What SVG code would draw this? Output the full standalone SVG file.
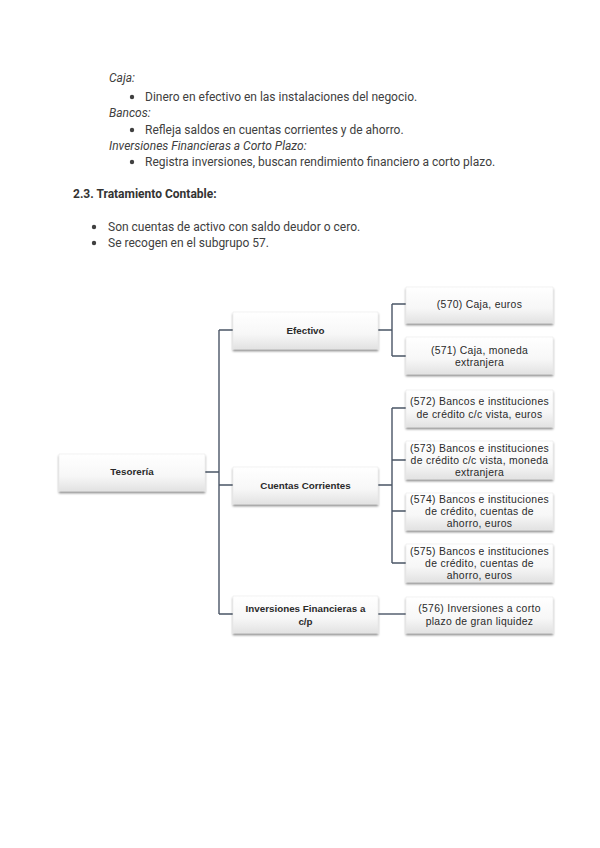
<svg xmlns="http://www.w3.org/2000/svg" width="600" height="848" viewBox="0 0 600 848">
<defs>
<linearGradient id="g" x1="0" y1="0" x2="0" y2="1">
<stop offset="0" stop-color="#ffffff"/>
<stop offset="0.6" stop-color="#f7f7f7"/>
<stop offset="1" stop-color="#e2e2e2"/>
</linearGradient>
<filter id="sh" x="-10%" y="-20%" width="120%" height="150%">
<feDropShadow dx="0" dy="2" stdDeviation="1.2" flood-color="#000" flood-opacity="0.45"/>
</filter>
</defs>
<style>
.doc{font-family:Roboto,"Liberation Sans",sans-serif;font-size:12px;fill:#404040}
.it{font-style:italic}
.h{font-weight:bold;font-size:12px;fill:#333}
.box{fill:url(#g);stroke:#e6e6e6;stroke-width:0.5;filter:url(#sh)}
.lb{font-family:"Liberation Sans",Arial,sans-serif;font-weight:bold;font-size:9.8px;fill:#2a2a2a;text-anchor:middle}
.rb{font-family:"Liberation Sans",Arial,sans-serif;font-size:10.4px;letter-spacing:0.3px;fill:#2a2a2a;text-anchor:middle}
.ln{fill:none;stroke:#4a5566;stroke-width:1.4}
</style>
<rect width="600" height="848" fill="#fff"/>
<g id="text">
<text class="doc it" x="109" y="82">Caja:</text>
<circle cx="132" cy="97" r="2.2" fill="#404040"/>
<text class="doc" x="145" y="101">Dinero en efectivo en las instalaciones del negocio.</text>
<text class="doc it" x="109" y="117">Bancos:</text>
<circle cx="132" cy="130" r="2.2" fill="#404040"/>
<text class="doc" x="145" y="134">Refleja saldos en cuentas corrientes y de ahorro.</text>
<text class="doc it" x="109" y="150">Inversiones Financieras a Corto Plazo:</text>
<circle cx="132" cy="162" r="2.2" fill="#404040"/>
<text class="doc" x="145" y="166">Registra inversiones, buscan rendimiento financiero a corto plazo.</text>
<text class="doc h" x="73" y="198">2.3. Tratamiento Contable:</text>
<circle cx="94" cy="227" r="2.2" fill="#404040"/>
<text class="doc" x="108" y="231">Son cuentas de activo con saldo deudor o cero.</text>
<circle cx="94" cy="243" r="2.2" fill="#404040"/>
<text class="doc" x="108" y="247">Se recogen en el subgrupo 57.</text>
</g>
<g id="connectors">
<path class="ln" d="M205 472H219M219 330V614M219 330H233M219 485H233M219 614H233"/>
<path class="ln" d="M378 330H392M392 304V356M392 304H406M392 356H406"/>
<path class="ln" d="M378 485H392M392 408V563M392 408H406M392 460H406M392 511H406M392 563H406"/>
<path class="ln" d="M378 614H406"/>
</g>
<g id="n-tesoreria"><rect class="box" x="59" y="454" width="146" height="37"/><text class="lb" x="132" y="475">Tesorería</text></g>
<g id="n-efectivo"><rect class="box" x="233" y="312" width="145" height="37"/><text class="lb" x="305.5" y="334">Efectivo</text></g>
<g id="n-cuentas"><rect class="box" x="233" y="467" width="145" height="37"/><text class="lb" x="305.5" y="489">Cuentas Corrientes</text></g>
<g id="n-inversiones"><rect class="box" x="233" y="596" width="145" height="37"/><text class="lb" x="305.5" y="612">Inversiones Financieras a</text><text class="lb" x="305.5" y="625">c/p</text></g>
<g id="n-570"><rect class="box" x="406" y="287" width="147" height="36"/><text class="rb" x="479.5" y="308">(570) Caja, euros</text></g>
<g id="n-571"><rect class="box" x="406" y="337" width="147" height="37"/><text class="rb" x="479.5" y="354">(571) Caja, moneda</text><text class="rb" x="479.5" y="366">extranjera</text></g>
<g id="n-572"><rect class="box" x="406" y="390" width="147" height="37"/><text class="rb" x="479.5" y="405">(572) Bancos e instituciones</text><text class="rb" x="479.5" y="418">de crédito c/c vista, euros</text></g>
<g id="n-573"><rect class="box" x="406" y="441" width="147" height="38"/><text class="rb" x="479.5" y="452">(573) Bancos e instituciones</text><text class="rb" x="479.5" y="464">de crédito c/c vista, moneda</text><text class="rb" x="479.5" y="476">extranjera</text></g>
<g id="n-574"><rect class="box" x="406" y="493" width="147" height="37"/><text class="rb" x="479.5" y="503">(574) Bancos e instituciones</text><text class="rb" x="479.5" y="515">de crédito, cuentas de</text><text class="rb" x="479.5" y="527">ahorro, euros</text></g>
<g id="n-575"><rect class="box" x="406" y="544" width="147" height="38"/><text class="rb" x="479.5" y="555">(575) Bancos e instituciones</text><text class="rb" x="479.5" y="567">de crédito, cuentas de</text><text class="rb" x="479.5" y="579">ahorro, euros</text></g>
<g id="n-576"><rect class="box" x="406" y="597" width="147" height="36"/><text class="rb" x="479.5" y="612">(576) Inversiones a corto</text><text class="rb" x="479.5" y="625">plazo de gran liquidez</text></g>
</svg>
